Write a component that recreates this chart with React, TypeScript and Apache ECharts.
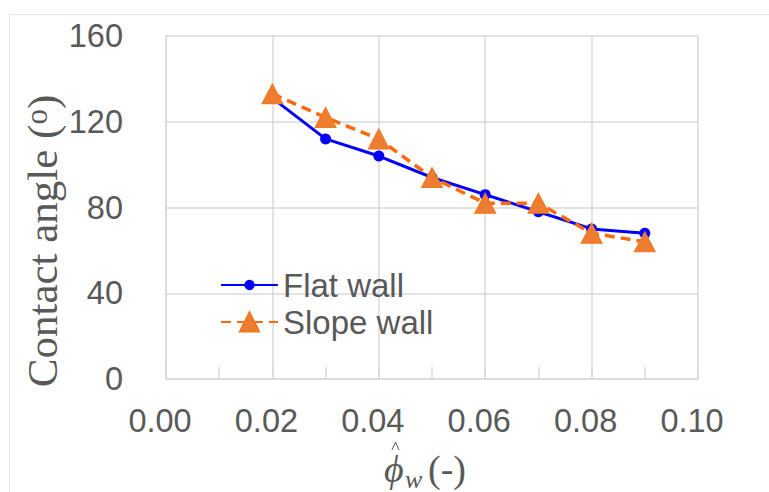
import React, { useEffect, useRef } from "react";
import * as echarts from "echarts";

// Wall wetting parameter (x) and measured contact angles (degrees)
const phiValues = [0.02, 0.03, 0.04, 0.05, 0.06, 0.07, 0.08, 0.09];
const flatWall = [131, 112, 104, 94, 86, 78, 70, 68];
const slopeWall = [133, 122, 112, 94, 82, 82, 68, 64];

const seriesNames = ["Flat wall", "Slope wall"];
const xTicks = { min: 0, max: 0.1, step: 0.02 };
const yTicks = { min: 0, max: 160, step: 40 };

const SANS = '"Liberation Sans", Arial, sans-serif';
const SERIF = '"Liberation Serif", "Times New Roman", "DejaVu Serif", serif';
const TEXT = "#595959";
const GRID = "#d9d9d9";

export default function App() {
  const ref = useRef<HTMLDivElement>(null);

  useEffect(() => {
    if (!ref.current) return;
    const chart = echarts.init(ref.current, null, { renderer: "svg" });

    const legendText = { fontSize: 33, color: TEXT, fontFamily: SANS };

    chart.setOption({
      animation: false,
      backgroundColor: "#ffffff",
      grid: { left: 166, right: 71, top: 36, bottom: 113, containLabel: false },
      xAxis: {
        type: "value",
        min: xTicks.min,
        max: xTicks.max,
        interval: xTicks.step,
        axisLine: { show: true, lineStyle: { color: GRID, width: 1.5 } },
        axisTick: { show: true, inside: true, length: 12, lineStyle: { color: GRID, width: 1.5 } },
        minorTick: { show: true, splitNumber: 2, length: 12, lineStyle: { color: GRID, width: 1.5 } },
        splitLine: { show: true, lineStyle: { color: GRID, width: 1.5 } },
        axisLabel: {
          margin: 25,
          fontSize: 32.5,
          color: TEXT,
          fontFamily: SANS,
          padding: [0, 12, 0, 0],
          formatter: (v: number) => v.toFixed(2),
        },
      },
      yAxis: {
        type: "value",
        min: yTicks.min,
        max: yTicks.max,
        interval: yTicks.step,
        axisLine: { show: true, lineStyle: { color: GRID, width: 1.5 } },
        axisTick: { show: false },
        splitLine: { show: true, lineStyle: { color: GRID, width: 1.5 } },
        axisLabel: { margin: 43, fontSize: 32.5, color: TEXT, fontFamily: SANS },
      },
      legend: [
        {
          data: [seriesNames[0]],
          left: 220,
          top: 268.5,
          padding: 0,
          itemWidth: 57,
          itemHeight: 13,
          textStyle: legendText,
        },
        {
          data: [seriesNames[1]],
          left: 220,
          top: 305.5,
          padding: 0,
          itemWidth: 57,
          itemHeight: 24,
          textStyle: legendText,
        },
      ],
      series: [
        {
          name: seriesNames[0],
          type: "line",
          data: phiValues.map((x, i) => [x, flatWall[i]]),
          symbol: "circle",
          symbolSize: 11,
          lineStyle: { color: "#0000ff", width: 3 },
          itemStyle: { color: "#0000ff" },
          z: 2,
        },
        {
          name: seriesNames[1],
          type: "line",
          data: phiValues.map((x, i) => [x, slopeWall[i]]),
          symbol: "triangle",
          symbolSize: [21, 20],
          lineStyle: { color: "#ff6a0d", width: 3.5, type: [10, 6] },
          itemStyle: { color: "#ed7d31", borderColor: "#f4761e", borderWidth: 1 },
          z: 3,
        },
      ],
      graphic: [
        {
          type: "rect",
          silent: true,
          z: -10,
          shape: { x: 9.5, y: 14.5, width: 800, height: 520 },
          style: { fill: "none", stroke: "#e8e8e8", lineWidth: 1 },
        },
        {
          type: "text",
          silent: true,
          x: 42,
          y: 241,
          rotation: Math.PI / 2,
          style: {
            text: "{a|Contact angle (}{s|o}{a|)}",
            align: "center",
            verticalAlign: "middle",
            fill: TEXT,
            rich: {
              a: { fontSize: 43, fontFamily: SERIF, fill: TEXT },
              s: { fontSize: 31, fontFamily: SERIF, fill: TEXT, padding: [0, 0, 12, 0] },
            },
          },
        },
        {
          type: "text",
          silent: true,
          x: 384,
          y: 469,
          style: {
            text: "\u03D5",
            fontSize: 38,
            fontStyle: "italic",
            fontFamily: SERIF,
            fill: TEXT,
            align: "left",
            verticalAlign: "middle",
          },
        },
        {
          type: "polyline",
          silent: true,
          shape: { points: [[392, 450], [395.5, 442], [399, 450]] },
          style: { stroke: TEXT, lineWidth: 1, fill: "none" },
        },
        {
          type: "text",
          silent: true,
          x: 405,
          y: 479,
          style: {
            text: "w",
            fontSize: 26,
            fontStyle: "italic",
            fontFamily: SERIF,
            fill: TEXT,
            align: "left",
            verticalAlign: "middle",
          },
        },
        {
          type: "text",
          silent: true,
          x: 428,
          y: 469,
          style: {
            text: "(-)",
            fontSize: 38,
            fontFamily: SERIF,
            fill: TEXT,
            align: "left",
            verticalAlign: "middle",
          },
        },
      ],
    });

    return () => chart.dispose();
  }, []);

  return (
    <div
      ref={ref}
      style={{ position: "absolute", left: 0, top: 0, width: 769, height: 492 }}
    />
  );
}
